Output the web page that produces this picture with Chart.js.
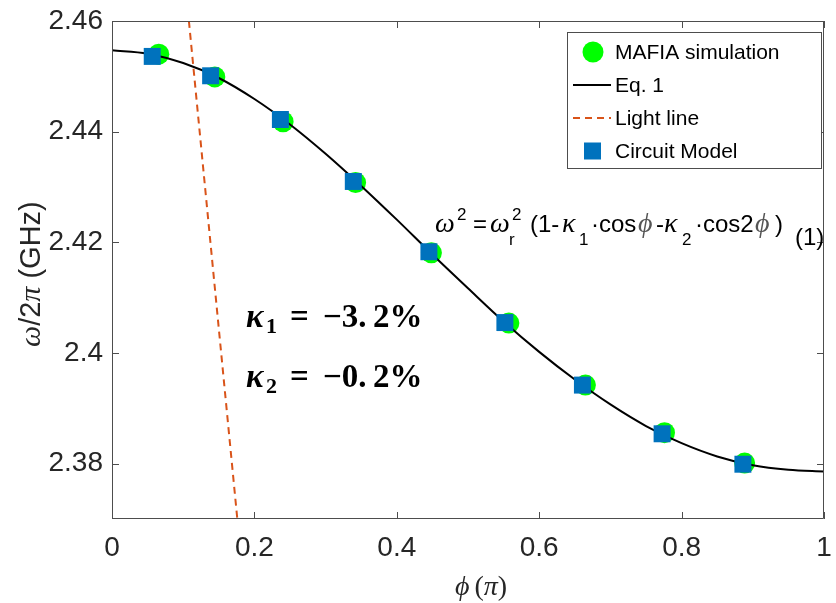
<!DOCTYPE html>
<html>
<head>
<meta charset="utf-8">
<script src="https://cdn.jsdelivr.net/npm/chart.js@4"></script>
<style>
    html, body {
        margin: 0;
        padding: 0;
        background: #ffffff;
    }

    #box {
        width: 836px;
        height: 603px;
    }
</style>
</head>
<body>
<div id="box">
    <canvas id="dispersionChart" width="836" height="603"></canvas>
</div>

<script>
// values
const mafiaPhi = [0.0657, 0.1444, 0.2403, 0.3421, 0.4486, 0.5574, 0.6649, 0.7760, 0.8885];
const mafiaFreq = [2.4540, 2.4499, 2.4418, 2.4308, 2.4181, 2.4054, 2.3942, 2.3856, 2.3801];

const circuitPhi = [0.0565, 0.1385, 0.2365, 0.3389, 0.4451, 0.5518, 0.6607, 0.7726, 0.8861];
const circuitFreq = [2.4536, 2.4501, 2.4422, 2.4310, 2.4183, 2.4055, 2.3942, 2.3854, 2.3799];

const eqPhi = [0, 0.05, 0.1, 0.15, 0.2, 0.25, 0.3, 0.35, 0.4, 0.45, 0.5,
    0.55, 0.6, 0.65, 0.7, 0.75, 0.8, 0.85, 0.9, 0.95, 1];
const eqFreq = [2.4547, 2.4541, 2.4524, 2.4497, 2.4459, 2.4413, 2.4360, 2.4302, 2.4241, 2.4178, 2.4117,
    2.4057, 2.4002, 2.3952, 2.3907, 2.3868, 2.3837, 2.3813, 2.3797, 2.3789, 2.3786];

const lightPhi = [0.108, 0.176];
const lightFreq = [2.46, 2.37];

const xTickValues = [0, 0.2, 0.4, 0.6, 0.8, 1];
const xTickLabels = ["0", "0.2", "0.4", "0.6", "0.8", "1"];
const yTickValues = [2.38, 2.40, 2.42, 2.44, 2.46];
const yTickLabels = ["2.38", "2.4", "2.42", "2.44", "2.46"];

const seriesNames = ["MAFIA simulation", "Eq. 1", "Light line", "Circuit Model"];

const SANS = "'Liberation Sans', Arial, sans-serif";
const SERIF = "'Liberation Serif', 'DejaVu Serif', 'Times New Roman', serif";
const AXIS_COLOR = "#4d4d4d";
const TEXT_COLOR = "#262626";

function toPoints(xs, ys) {
    return xs.map((x, i) => ({ x: x, y: ys[i] }));
}

// draws a run of text pieces one after another
function drawRuns(ctx, x, y, runs) {
    let cx = x;
    runs.forEach(r => {
        ctx.font = r.font;
        ctx.fillStyle = r.color || "#000000";
        ctx.fillText(r.t, cx, y + (r.dy || 0));
        cx += ctx.measureText(r.t).width + (r.gap || 0);
    });
    return cx;
}

// pieces placed at fixed x, baseline y
function drawPieces(ctx, pieces) {
    pieces.forEach(p => {
        ctx.font = p[3];
        ctx.fillStyle = p[4] || "#000000";
        ctx.fillText(p[0], p[1], p[2]);
    });
}

const framePlugin = {
    id: "frame",
    afterDatasetsDraw(chart) {
        const ctx = chart.ctx;
        const a = chart.chartArea;
        const xs = chart.scales.x;
        const ys = chart.scales.y;

        ctx.save();

        // box + inward ticks
        ctx.strokeStyle = AXIS_COLOR;
        ctx.lineWidth = 1;
        ctx.beginPath();
        ctx.rect(a.left + 0.5, a.top + 0.5, a.right - a.left - 1, a.bottom - a.top - 1);
        xTickValues.forEach(v => {
            const px = Math.round(xs.getPixelForValue(v)) + 0.5;
            ctx.moveTo(px, a.bottom);
            ctx.lineTo(px, a.bottom - 7);
            ctx.moveTo(px, a.top);
            ctx.lineTo(px, a.top + 7);
        });
        yTickValues.forEach(v => {
            const py = Math.round(ys.getPixelForValue(v)) + 0.5;
            ctx.moveTo(a.left, py);
            ctx.lineTo(a.left + 7, py);
            ctx.moveTo(a.right, py);
            ctx.lineTo(a.right - 7, py);
        });
        ctx.stroke();

        // legend
        const lx = 567, ly = 32, lw = 254, lh = 136;
        ctx.fillStyle = "#ffffff";
        ctx.fillRect(lx, ly, lw, lh);
        ctx.strokeStyle = AXIS_COLOR;
        ctx.strokeRect(lx + 0.5, ly + 0.5, lw, lh);

        const ds = chart.data.datasets;
        ds.forEach((d, i) => {
            const cy = 52 + i * 33;
            if (d.showLine) {
                ctx.beginPath();
                ctx.strokeStyle = d.borderColor;
                ctx.lineWidth = d.borderWidth;
                ctx.setLineDash(d.borderDash || []);
                ctx.moveTo(573, cy);
                ctx.lineTo(611, cy);
                ctx.stroke();
                ctx.setLineDash([]);
            } else if (d.pointStyle === "rect") {
                ctx.fillStyle = d.backgroundColor;
                ctx.fillRect(584, cy - 8.5, 17, 17);
            } else {
                ctx.fillStyle = d.backgroundColor;
                ctx.beginPath();
                ctx.arc(593, cy, 10.5, 0, Math.PI * 2);
                ctx.fill();
            }
            ctx.fillStyle = "#000000";
            ctx.font = "21px " + SANS;
            ctx.textBaseline = "middle";
            ctx.textAlign = "left";
            ctx.fillText(d.label, 615, cy + 1);
        });

        // equation
        ctx.textBaseline = "alphabetic";
        const f = "24px " + SANS;
        const fi = "italic 28px " + SERIF;
        const fs = "17px " + SANS;
        const gray = "#555555";
        drawPieces(ctx, [
            ["ω", 435, 232, fi],
            ["2", 457, 220, fs],
            ["=", 473, 232, f],
            ["ω", 490, 232, fi],
            ["r", 509, 245, fs],
            ["2", 512, 220, fs],
            ["(1-", 530, 232, f],
            ["κ", 562, 232, fi],
            ["1", 579, 245, fs],
            ["·cos", 591, 232, f],
            ["ϕ", 638, 232, fi, gray],
            ["-", 656, 232, f],
            ["κ", 664, 232, fi],
            ["2", 682, 245, fs],
            ["·cos2", 695, 232, f],
            ["ϕ", 755, 232, fi, gray],
            [")", 775, 232, f],
            ["(1)", 795, 245, f]
        ]);

        // kappa values
        const kb = "bold italic 33px " + SERIF;
        const kn = "bold 33px " + SERIF;
        const ks = "bold 22px " + SERIF;
        drawPieces(ctx, [
            ["κ", 246, 327, kb],
            ["1", 266, 333, ks],
            ["=", 290, 327, kn],
            ["−3.", 323, 327, kn],
            ["2%", 373, 327, kn],
            ["κ", 246, 387, kb],
            ["2", 266, 393, ks],
            ["=", 290, 387, kn],
            ["−0.", 323, 387, kn],
            ["2%", 373, 387, kn]
        ]);

        // axis titles
        ctx.save();
        ctx.translate(40, 347);
        ctx.rotate(-Math.PI / 2);
        drawRuns(ctx, 0, 0, [
            { t: "ω", font: "italic 30px " + SERIF, color: TEXT_COLOR },
            { t: "/2", font: "29px " + SANS, color: TEXT_COLOR },
            { t: "π", font: "italic 30px " + SERIF, color: TEXT_COLOR },
            { t: " (GHz)", font: "29px " + SANS, color: TEXT_COLOR }
        ]);
        ctx.restore();

        drawRuns(ctx, 455, 595, [
            { t: "ϕ", font: "italic 28px " + SERIF, color: TEXT_COLOR, gap: 5 },
            { t: "(", font: "28px " + SERIF, color: TEXT_COLOR },
            { t: "π", font: "italic 28px " + SERIF, color: TEXT_COLOR },
            { t: ")", font: "28px " + SERIF, color: TEXT_COLOR }
        ]);

        ctx.restore();
    }
};

document.addEventListener("DOMContentLoaded", () => {
    carregarGrafico();
});

function carregarGrafico() {
    const ctx = document.getElementById("dispersionChart").getContext("2d");

    new Chart(ctx, {
        type: "scatter",
        data: {
            datasets: [
                {
                    label: seriesNames[0],
                    data: toPoints(mafiaPhi, mafiaFreq),
                    pointStyle: "circle",
                    pointRadius: 10.5,
                    backgroundColor: "#00ff00",
                    borderColor: "#00ff00",
                    borderWidth: 0,
                    order: 3
                },
                {
                    label: seriesNames[1],
                    data: toPoints(eqPhi, eqFreq),
                    showLine: true,
                    pointRadius: 0,
                    borderColor: "#000000",
                    borderWidth: 2,
                    cubicInterpolationMode: "monotone",
                    order: 2
                },
                {
                    label: seriesNames[2],
                    data: toPoints(lightPhi, lightFreq),
                    showLine: true,
                    pointRadius: 0,
                    borderColor: "#d95319",
                    borderWidth: 2,
                    borderDash: [7, 5],
                    order: 1
                },
                {
                    label: seriesNames[3],
                    data: toPoints(circuitPhi, circuitFreq),
                    pointStyle: "rect",
                    pointRadius: 12,
                    backgroundColor: "#0072bd",
                    borderColor: "#0072bd",
                    borderWidth: 0,
                    order: 0
                }
            ]
        },
        options: {
            responsive: false,
            animation: false,
            layout: {
                padding: { top: 21, right: 4, left: 0, bottom: 0 }
            },
            plugins: {
                legend: { display: false },
                tooltip: { enabled: false }
            },
            scales: {
                x: {
                    type: "linear",
                    min: 0,
                    max: 1,
                    grid: { display: false, drawTicks: false },
                    border: { display: false },
                    afterBuildTicks: scale => {
                        scale.ticks = xTickValues.map(v => ({ value: v }));
                    },
                    afterFit: scale => {
                        scale.height = 84;
                        scale.paddingLeft = 0;
                        scale.paddingRight = 0;
                    },
                    ticks: {
                        color: TEXT_COLOR,
                        font: { family: SANS, size: 28 },
                        padding: 12,
                        maxRotation: 0,
                        callback: (v, i) => xTickLabels[i]
                    }
                },
                y: {
                    min: 2.37,
                    max: 2.46,
                    grid: { display: false, drawTicks: false },
                    border: { display: false },
                    afterBuildTicks: scale => {
                        scale.ticks = yTickValues.map(v => ({ value: v }));
                    },
                    afterFit: scale => {
                        scale.width = 112;
                        scale.paddingTop = 0;
                        scale.paddingBottom = 0;
                    },
                    ticks: {
                        color: TEXT_COLOR,
                        font: { family: SANS, size: 28 },
                        padding: 9,
                        callback: (v, i) => yTickLabels[i]
                    }
                }
            }
        },
        plugins: [framePlugin]
    });
}
</script>
</body>
</html>
